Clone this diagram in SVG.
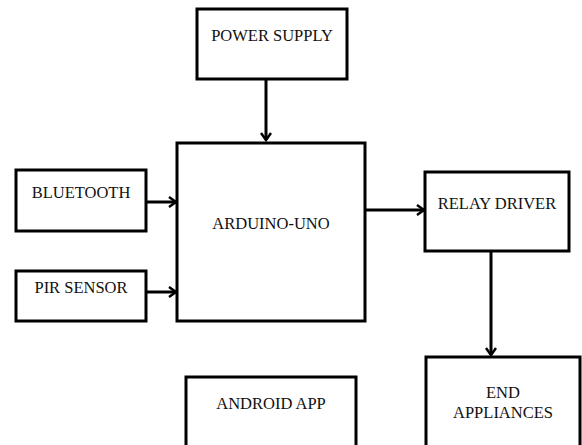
<svg xmlns="http://www.w3.org/2000/svg" width="582" height="445" viewBox="0 0 582 445">
<defs>
<style>
.box{fill:#fff;stroke:#000;stroke-width:3}
.lbl{font-family:"Liberation Serif","Times New Roman",serif;font-size:16.5px;fill:#111;text-anchor:middle}
.con{stroke:#000;stroke-width:3;fill:none}
</style>
<marker id="arr" markerWidth="12" markerHeight="12" refX="9" refY="6" orient="auto" markerUnits="userSpaceOnUse">
<polyline points="2,1 9,6 2,11" fill="none" stroke="#000" stroke-width="2.5"/>
</marker>
</defs>
<rect width="582" height="445" fill="#fff"/>
<g id="power-supply"><rect class="box" x="197" y="9" width="150" height="70"/><text class="lbl" x="272" y="41">POWER SUPPLY</text></g>
<g id="arduino-uno"><rect class="box" x="177" y="143" width="188" height="178"/><text class="lbl" x="271" y="229">ARDUINO-UNO</text></g>
<g id="bluetooth"><rect class="box" x="16" y="170" width="130" height="61"/><text class="lbl" x="81" y="198">BLUETOOTH</text></g>
<g id="pir-sensor"><rect class="box" x="16" y="271" width="130" height="50"/><text class="lbl" x="81" y="293">PIR SENSOR</text></g>
<g id="relay-driver"><rect class="box" x="425" y="172" width="144" height="79"/><text class="lbl" x="497" y="209">RELAY DRIVER</text></g>
<g id="end-appliances"><rect class="box" x="426" y="357" width="154" height="100"/><text class="lbl" x="503" y="398">END</text><text class="lbl" x="503" y="418">APPLIANCES</text></g>
<g id="android-app"><rect class="box" x="186" y="377" width="170" height="80"/><text class="lbl" x="271" y="409">ANDROID APP</text></g>
<g id="connectors">
<line class="con" x1="266" y1="79" x2="266" y2="140" marker-end="url(#arr)"/>
<line class="con" x1="146" y1="202" x2="176" y2="202" marker-end="url(#arr)"/>
<line class="con" x1="146" y1="292" x2="176" y2="292" marker-end="url(#arr)"/>
<line class="con" x1="365" y1="210" x2="424" y2="210" marker-end="url(#arr)"/>
<line class="con" x1="491" y1="251" x2="491" y2="355" marker-end="url(#arr)"/>
</g>
</svg>
